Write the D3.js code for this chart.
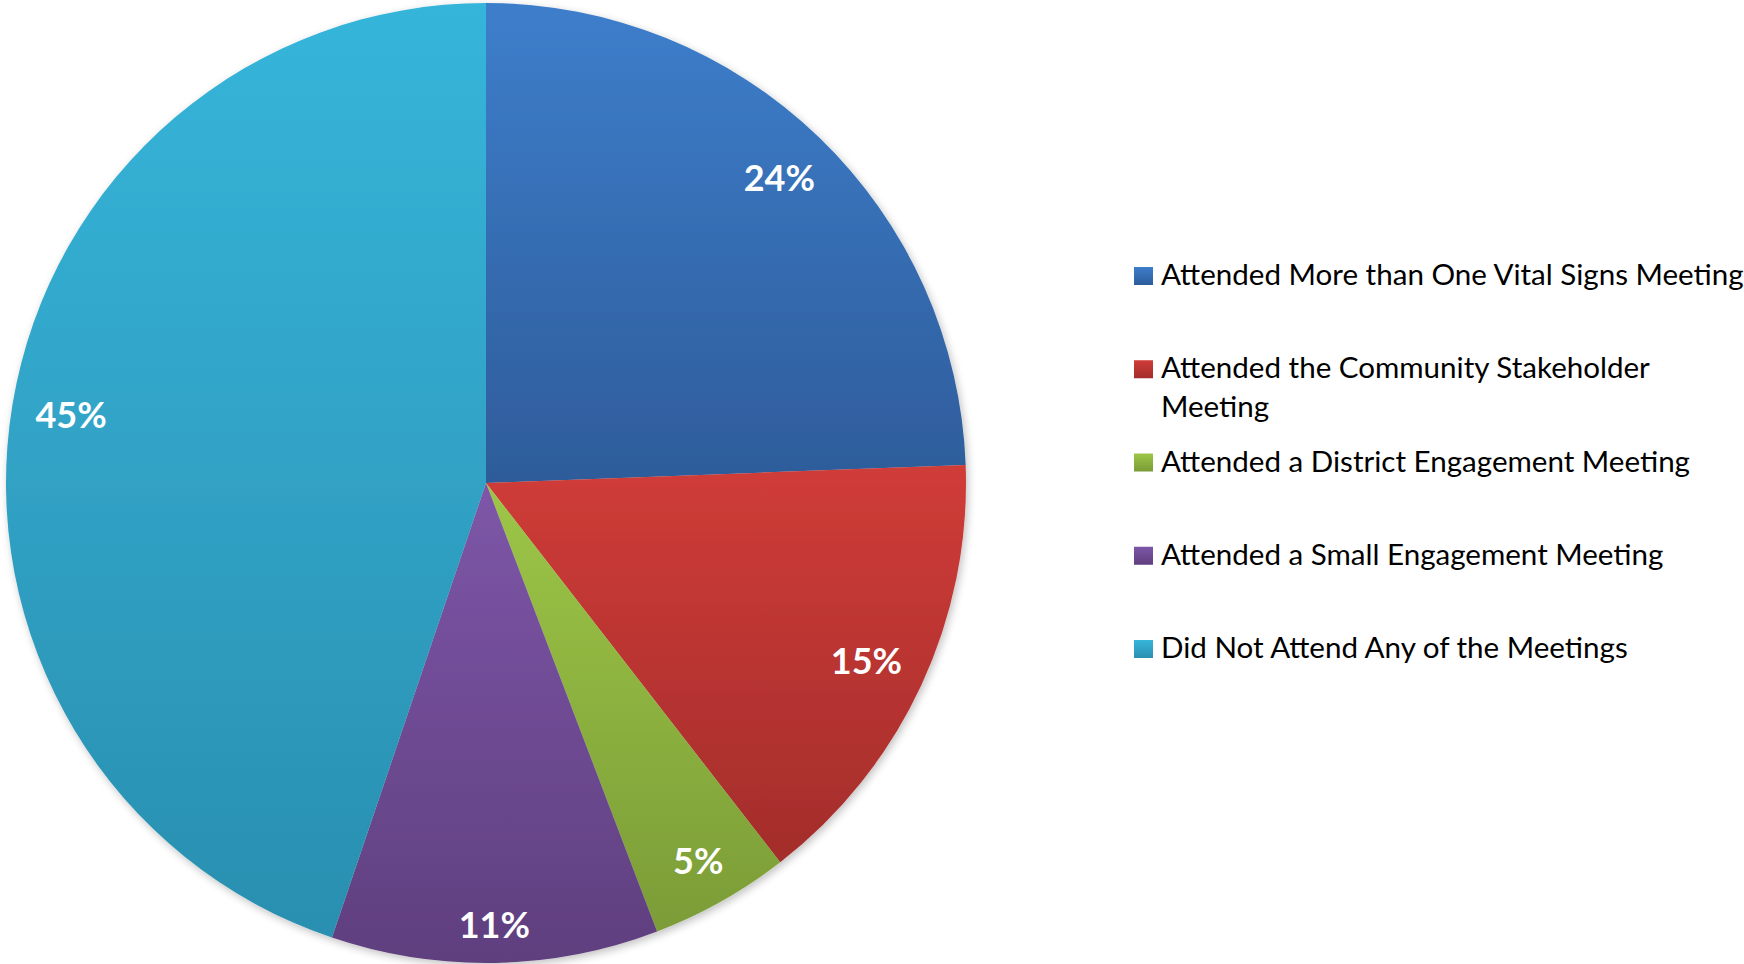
<!DOCTYPE html>
<html>
<head>
<meta charset="utf-8">
<script src="https://cdn.jsdelivr.net/npm/d3@7"></script>
<style>
  html, body { margin: 0; padding: 0; background: #ffffff; overflow: hidden; }
  svg { display: block; }
</style>
</head>
<body>
<svg id="chart" width="1744" height="964"></svg>
<script>
// ---- data ----
const categories = [
  "Attended More than One Vital Signs Meeting",
  "Attended the Community Stakeholder Meeting",
  "Attended a District Engagement Meeting",
  "Attended a Small Engagement Meeting",
  "Did Not Attend Any of the Meetings"
];
const legendLines = [
  ["Attended More than One Vital Signs Meeting"],
  ["Attended the Community Stakeholder", "Meeting"],
  ["Attended a District Engagement Meeting"],
  ["Attended a Small Engagement Meeting"],
  ["Did Not Attend Any of the Meetings"]
];
const values = [24.4, 15.1, 4.7, 11.0, 44.8];
const valueLabels = ["24%", "15%", "5%", "11%", "45%"];
const colorsTop = ["#3d7ecb", "#d03c38", "#9dc647", "#7d56a8", "#36b5da"];
const colorsBottom = ["#2e5c9a", "#a32d2b", "#7b9c37", "#5f3f7e", "#2a8fb0"];

// ---- layout ----
const svg = d3.select("#chart");
const cx = 486, cy = 483, R = 480;
const labelReach = 458;   // farthest corner of a label box from the centre

const defs = svg.append("defs");
categories.forEach((c, i) => {
  const g = defs.append("linearGradient")
    .attr("id", "grad" + i)
    .attr("x1", 0).attr("y1", 0).attr("x2", 0).attr("y2", 1);
  g.append("stop").attr("offset", "0%").attr("stop-color", colorsTop[i]);
  g.append("stop").attr("offset", "100%").attr("stop-color", colorsBottom[i]);
});
const filt = defs.append("filter").attr("id", "shadow")
  .attr("x", "-10%").attr("y", "-10%").attr("width", "120%").attr("height", "120%");
filt.append("feGaussianBlur").attr("in", "SourceAlpha").attr("stdDeviation", 4).attr("result", "b");
filt.append("feOffset").attr("in", "b").attr("dx", 2).attr("dy", 3).attr("result", "o");
filt.append("feComponentTransfer").attr("in", "o").attr("result", "o2")
  .append("feFuncA").attr("type", "linear").attr("slope", 0.25);
const fm = filt.append("feMerge");
fm.append("feMergeNode").attr("in", "o2");
fm.append("feMergeNode").attr("in", "SourceGraphic");

const pie = d3.pie().sort(null).value(d => d)(values);
const arc = d3.arc().innerRadius(0).outerRadius(R);

const pg = svg.append("g").attr("transform", `translate(${cx},${cy})`);
const sliceG = pg.append("g").attr("filter", "url(#shadow)");
sliceG.selectAll("path.slice")
  .data(pie)
  .join("path")
  .attr("class", "slice")
  .attr("d", arc)
  .attr("fill", (d, i) => `url(#grad${i})`);

// best-fit style labels: push each label box outward until its far corner reaches labelReach
const labels = pg.selectAll("text.val")
  .data(pie)
  .join("text")
  .attr("class", "val")
  .attr("text-anchor", "middle")
  .attr("dy", "0.36em")
  .attr("font-family", "Lato, 'Open Sans', sans-serif")
  .attr("font-weight", "bold")
  .attr("font-size", 36)
  .attr("fill", "#ffffff")
  .text((d, i) => valueLabels[i]);

labels.each(function(d) {
  const w = this.getComputedTextLength();
  const hw = w / 2, hh = 14;
  const a = (d.startAngle + d.endAngle) / 2;
  const ux = Math.sin(a), uy = -Math.cos(a);
  const sx = ux >= 0 ? 1 : -1, sy = uy >= 0 ? 1 : -1;
  let lo = 0, hi = R;
  for (let k = 0; k < 40; k++) {
    const m = (lo + hi) / 2;
    const px = ux * m + sx * hw, py = uy * m + sy * hh;
    if (Math.hypot(px, py) > labelReach) hi = m; else lo = m;
  }
  d3.select(this).attr("transform", `translate(${ux * lo},${uy * lo})`);
});

// ---- legend ----
const legendY = d3.scalePoint().domain(d3.range(categories.length)).range([285, 658]);
const lg = svg.append("g");
const rows = lg.selectAll("g.row")
  .data(categories)
  .join("g")
  .attr("class", "row")
  .attr("transform", (d, i) => `translate(1134,${legendY(i)})`);

rows.append("rect")
  .attr("x", 0).attr("y", -18)
  .attr("width", 19).attr("height", 18)
  .attr("fill", (d, i) => `url(#grad${i})`);

const texts = rows.append("text")
  .attr("x", 27)
  .attr("font-family", "Lato, 'Open Sans', sans-serif")
  .attr("font-size", 28)
  .attr("fill", "#000000");
texts.each(function(d, i) {
  const t = d3.select(this);
  legendLines[i].forEach((ln, j) => {
    t.append("tspan").attr("x", 27).attr("y", j * 39).text(ln);
  });
});

// scale horizontally so the reference label width is matched
const ref = texts.filter((d, i) => i === 2).node();
const natural = ref.getComputedTextLength();
const k = 529 / natural;
texts.selectAll("tspan").each(function() {
  const w = this.getComputedTextLength();
  d3.select(this).attr("textLength", w * k).attr("lengthAdjust", "spacingAndGlyphs");
});
</script>
</body>
</html>
